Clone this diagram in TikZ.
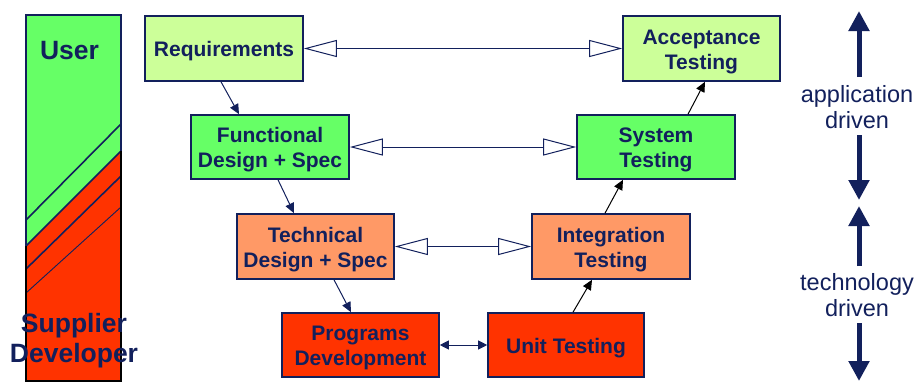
\documentclass[tikz,border=0pt]{standalone}
\usepackage{fontspec}
\setmainfont{Liberation Sans}
\usetikzlibrary{arrows.meta,calc}
\definecolor{navy}{RGB}{18,32,92}
\definecolor{palegreen}{RGB}{204,255,153}
\definecolor{brightgreen}{RGB}{102,255,102}
\definecolor{salmon}{RGB}{255,153,102}
\definecolor{vermilion}{RGB}{255,51,0}
\begin{document}
\begin{tikzpicture}[x=1pt,y=-1pt,
  stage/.style={draw=navy, line width=1.6pt, minimum height=64pt, inner sep=0pt},
  stagetext/.style={align=center, text=navy, inner sep=0pt, yshift=-3pt,
    font=\fontsize{21}{25}\selectfont\bfseries},
  flow/.style={draw=navy, line width=1pt, -{Triangle[length=10pt,width=9pt]}},
  flowk/.style={draw=black, line width=1pt, -{Triangle[length=10pt,width=9pt]}},
  link/.style={draw=navy, line width=1pt,
    {Triangle[open,length=33pt,width=17pt]}-{Triangle[open,length=33pt,width=17pt]}},
  pair/.style={draw=navy, line width=1pt,
    {Triangle[length=9pt,width=9pt]}-{Triangle[length=9pt,width=9pt]}},
  role/.style={text=navy, font=\fontsize{26.5}{30}\selectfont\bfseries, inner sep=0pt},
  drivelabel/.style={text=navy, align=center, font=\fontsize{23.5}{26}\selectfont, inner sep=0pt},
  drive/.style={draw=navy, line width=5pt, -{Triangle[length=20pt,width=20pt]}}
]
\useasboundingbox (0,0) rectangle (918,383);

% role column: user share on top, supplier share below the slanted boundary
\path[fill=brightgreen] (26,15) rectangle (121,381);
\path[fill=vermilion] (26,246) -- (121,151) -- (121,381) -- (26,381) -- cycle;
\draw[navy, line width=1.6pt] (26,220) -- (121,124);
\draw[navy, line width=1.6pt] (26,246) -- (121,151);
\draw[navy, line width=1.6pt] (26,269) -- (121,176);
\draw[navy, line width=0.9pt] (26,293) -- (121,207);
\draw[navy, line width=2pt] (26,246) -- (26,15) -- (121,15) -- (121,151);
\draw[black, line width=2pt] (26,246) -- (26,381) -- (121,381) -- (121,151);
\node[role, anchor=base] (user) at (69.5,59) {User};
\node[role, anchor=base] (supplier) at (74,332) {Supplier};
\node[role, anchor=base] (developer) at (74,362) {Developer};

% V-model stages
\node[stage, fill=palegreen, minimum width=158pt, minimum height=65pt,
  label={[stagetext]center:Requirements}] (req) at (224,48.5) {};
\node[stage, fill=palegreen, minimum width=157pt, minimum height=65pt,
  label={[stagetext]center:{Acceptance\\Testing}}] (acc) at (701.5,48.5) {};
\node[stage, fill=brightgreen, minimum width=158pt,
  label={[stagetext]center:{Functional\\Design + Spec}}] (fun) at (270,147) {};
\node[stage, fill=brightgreen, minimum width=158pt,
  label={[stagetext]center:{System\\Testing}}] (sys) at (656,147) {};
\node[stage, fill=salmon, minimum width=157pt, minimum height=65pt,
  label={[stagetext]center:{Technical\\Design + Spec}}] (tec) at (315.5,246.5) {};
\node[stage, fill=salmon, minimum width=158pt, minimum height=65pt,
  label={[stagetext]center:{Integration\\Testing}}] (int) at (611,246.5) {};
\node[stage, fill=vermilion, minimum width=157pt,
  label={[stagetext]center:{Programs\\Development}}] (prg) at (360.5,345) {};
\node[stage, fill=vermilion, minimum width=156pt,
  label={[stagetext]center:Unit Testing}] (unt) at (566,345) {};

% verification links between matching levels
\draw[link] (req.east) -- (acc.west);
\draw[link] (fun.east) -- (sys.west);
\draw[link] (tec.east) -- (int.west);
\draw[pair] (prg.east) -- (unt.west);

% descending and ascending flow
\draw[flow] ([xshift=-3pt]req.south) -- ([xshift=-31pt]fun.north);
\draw[flow] ([xshift=8pt]fun.south) -- ([xshift=-21.5pt]tec.north);
\draw[flow] ([xshift=18.5pt]tec.south) -- ([xshift=-9.5pt]prg.north);
\draw[flowk] ([xshift=7pt]unt.north) -- ([xshift=-19pt]int.south);
\draw[flowk] ([xshift=-6pt]int.north) -- ([xshift=-33pt]sys.south);
\draw[flowk] ([xshift=32pt]sys.north) -- ([xshift=3.5pt]acc.south);

% driver scale on the right
\node[drivelabel] (app) at (857,106.8) {application\\driven};
\node[drivelabel] (tech) at (857,294.8) {technology\\driven};
\coordinate (a1s) at (859,77);
\coordinate (a1t) at (859,11);
\coordinate (a2s) at (859,135);
\coordinate (a2t) at (859,200);
\coordinate (a3s) at (859,266);
\coordinate (a3t) at (859,206);
\coordinate (a4s) at (859,323);
\coordinate (a4t) at (859,381);
\draw[drive] (a1s) -- (a1t);
\draw[drive] (a2s) -- (a2t);
\draw[drive] (a3s) -- (a3t);
\draw[drive] (a4s) -- (a4t);
\end{tikzpicture}
\end{document}
